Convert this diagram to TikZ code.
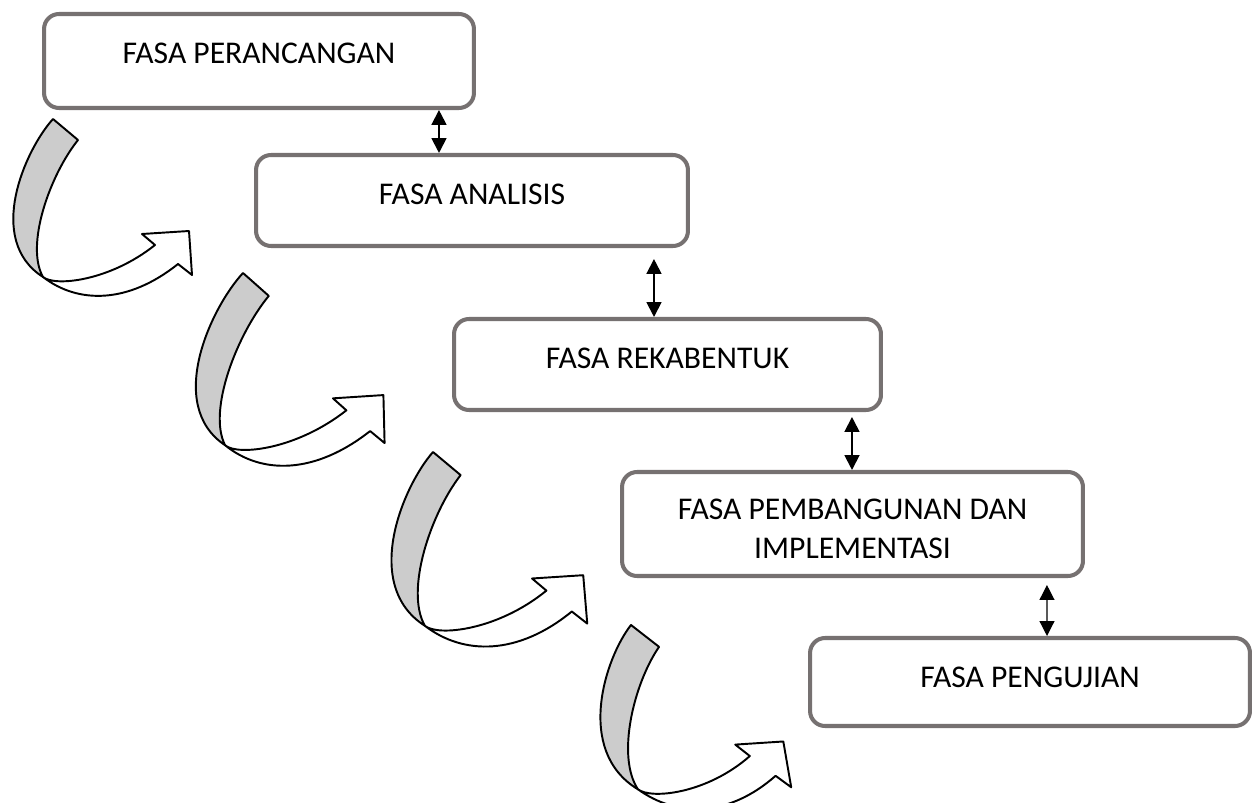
\documentclass[tikz,border=0pt]{standalone}
\usepackage{fontspec}
\setmainfont{Carlito}
\usetikzlibrary{arrows.meta,positioning}
\definecolor{boxgray}{RGB}{118,113,113}
\definecolor{ribbongray}{RGB}{204,204,204}

\begin{document}
\begin{tikzpicture}[x=0.02cm,y=-0.02cm,
    phasebox/.style={draw=boxgray,line width=2.3pt,rounded corners=0.3cm,fill=white,inner sep=0pt},
    phasetext/.style={font=\fontsize{18}{22}\selectfont,align=center,inner sep=0pt},
    dblarrow/.style={{Triangle[width=8.5pt,length=8.5pt]}-{Triangle[width=8.5pt,length=8.5pt]},line width=1.1pt},
    ribbon/.style={draw=black,line width=1.1pt,line join=round}]
                \useasboundingbox (0,0) rectangle (1253,803);
                % phase boxes
                \node[phasebox,minimum width=8.6cm,minimum height=1.88cm] (perancangan) at (259,61) {};
                \node[phasebox,minimum width=8.64cm,minimum height=1.82cm] (analisis) at (472,200.5) {};
                \node[phasebox,minimum width=8.54cm,minimum height=1.82cm] (rekabentuk) at (667.5,364.5) {};
                \node[phasebox,minimum width=9.22cm,minimum height=2.08cm] (pembangunan) at (852.5,524) {};
                \node[phasebox,minimum width=8.8cm,minimum height=1.76cm] (pengujian) at (1030,682) {};
                \node[phasetext,below=0.62cm of perancangan.north] (perancangantext) {FASA PERANCANGAN};
                \node[phasetext,below=0.62cm of analisis.north] (analisistext) {FASA ANALISIS};
                \node[phasetext,below=0.62cm of rekabentuk.north] (rekabentuktext) {FASA REKABENTUK};
                \node[phasetext,below=0.58cm of pembangunan.north] (pembangunantext) {FASA PEMBANGUNAN DAN\\IMPLEMENTASI};
                \node[phasetext,below=0.62cm of pengujian.north] (pengujiantext) {FASA PENGUJIAN};
                % links between phases
                \draw[dblarrow] ([xshift=3.6cm]perancangan.south) -- ([xshift=-0.66cm]analisis.north);
                \draw[dblarrow] ([xshift=3.64cm,yshift=-0.22cm]analisis.south) -- ([xshift=-0.27cm]rekabentuk.north);
                \draw[dblarrow] ([xshift=3.69cm,yshift=-0.1cm]rekabentuk.south) -- ([xshift=-0.01cm]pembangunan.north);
                \draw[dblarrow,line width=0.7pt] ([xshift=3.89cm,yshift=-0.14cm]pembangunan.south) -- ([xshift=0.34cm]pengujian.north);
                % curved ribbon arrows
                \foreach \ox/\oy/\sx/\sy/\sl in {53/119/1/1/0, 243/273/1.07/1.09/0.042, 433/452/1.09/1.10/-0.016, 631/625/1.03/1.04/-0.105}{
                    \begin{scope}[shift={(\ox,\oy)},xslant=\sl,xscale=\sx,yscale=\sy]
                        \filldraw[ribbon,fill=ribbongray] (0,0) -- (25,21) .. controls (-3,56) and (-28,126) .. (-10,158)
                            .. controls (-68,121) and (-28,31) .. (0,0) -- cycle;
                        \filldraw[ribbon,fill=white] (-10,158) .. controls (25,185) and (75,185) .. (125,145)
                            -- (139,156) -- (136,112) -- (89,115) -- (102,126) .. controls (57,162) and (2,168) .. (-10,158) -- cycle;
                    \end{scope}
                }
            \end{tikzpicture}
\end{document}
